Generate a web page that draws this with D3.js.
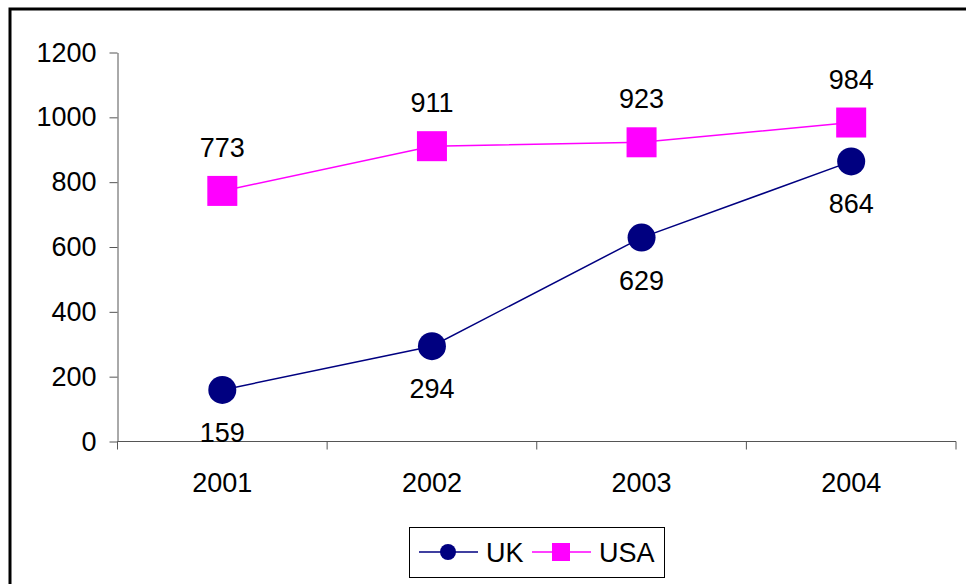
<!DOCTYPE html>
<html>
<head>
<meta charset="utf-8">
<script src="https://cdn.jsdelivr.net/npm/d3@7"></script>
<style>
  body { margin: 0; background: #fff; }
  svg { display: block; font-family: "Liberation Sans", Arial, sans-serif; }
</style>
</head>
<body>
<div id="chart"></div>
<script>
const years = ['2001', '2002', '2003', '2004'];
const ukValues = [159, 294, 629, 864];
const usaValues = [773, 911, 923, 984];
const yTicks = [0, 200, 400, 600, 800, 1000, 1200];

const W = 966, H = 584;
const plot = { left: 117.5, right: 956, top: 52.5, bottom: 441.5 };
const fontSize = 27;

const svg = d3.select('#chart').append('svg')
    .attr('width', W)
    .attr('height', H);

// outer frame (runs past the right and bottom edge)
svg.append('rect')
    .attr('x', 10).attr('y', 9)
    .attr('width', 1000).attr('height', 1000)
    .attr('fill', 'none')
    .attr('stroke', '#000')
    .attr('stroke-width', 3);

const x = d3.scaleBand()
    .domain(years)
    .range([plot.left, plot.right]);

const y = d3.scaleLinear()
    .domain([0, 1200])
    .range([plot.bottom, plot.top]);

// Y axis
const yAxis = svg.append('g')
    .attr('transform', `translate(${plot.left},0)`)
    .call(d3.axisLeft(y).tickValues(yTicks).tickFormat(d3.format('d'))
        .tickSize(8).tickPadding(13).tickSizeOuter(0));
yAxis.select('.domain').attr('stroke', '#555');
yAxis.selectAll('.tick line').attr('stroke', '#555');
yAxis.selectAll('text').attr('font-size', fontSize).attr('fill', '#000')
    .attr('font-family', '"Liberation Sans", Arial, sans-serif');

// X axis, ticks between categories
const xAxis = svg.append('g')
    .attr('transform', `translate(0,${plot.bottom})`);
xAxis.append('line')
    .attr('x1', plot.left).attr('x2', plot.right)
    .attr('stroke', '#555');
const bounds = years.map(d => x(d)).concat([x(years[years.length - 1]) + x.bandwidth()]);
xAxis.selectAll('line.tk')
    .data(bounds)
    .join('line')
    .attr('class', 'tk')
    .attr('x1', d => d).attr('x2', d => d)
    .attr('y1', 0).attr('y2', 8)
    .attr('stroke', '#555');
xAxis.selectAll('text')
    .data(years)
    .join('text')
    .attr('x', d => x(d) + x.bandwidth() / 2)
    .attr('y', 50)
    .attr('text-anchor', 'middle')
    .attr('font-size', fontSize)
    .text(d => d);

const cx = d => x(d) + x.bandwidth() / 2;
const line = d3.line().x(d => cx(d.year)).y(d => y(d.value));

const uk = years.map((year, i) => ({ year, value: ukValues[i] }));
const usa = years.map((year, i) => ({ year, value: usaValues[i] }));

// UK series
svg.append('path')
    .datum(uk)
    .attr('d', line)
    .attr('fill', 'none')
    .attr('stroke', '#000080')
    .attr('stroke-width', 1.5);
svg.selectAll('circle.uk')
    .data(uk)
    .join('circle')
    .attr('class', 'uk')
    .attr('cx', d => cx(d.year))
    .attr('cy', d => y(d.value))
    .attr('r', 14)
    .attr('fill', '#000080');

// USA series
svg.append('path')
    .datum(usa)
    .attr('d', line)
    .attr('fill', 'none')
    .attr('stroke', '#ff00ff')
    .attr('stroke-width', 1.5);
svg.selectAll('rect.usa')
    .data(usa)
    .join('rect')
    .attr('class', 'usa')
    .attr('x', d => cx(d.year) - 15)
    .attr('y', d => y(d.value) - 15)
    .attr('width', 30)
    .attr('height', 30)
    .attr('fill', '#ff00ff');

// data labels
svg.selectAll('text.usa-lbl')
    .data(usa)
    .join('text')
    .attr('class', 'usa-lbl')
    .attr('x', d => cx(d.year))
    .attr('y', d => y(d.value) - 34)
    .attr('text-anchor', 'middle')
    .attr('font-size', fontSize)
    .text(d => d.value);

svg.selectAll('text.uk-lbl')
    .data(uk)
    .join('text')
    .attr('class', 'uk-lbl')
    .attr('x', d => cx(d.year))
    .attr('y', d => y(d.value) + 52)
    .attr('text-anchor', 'middle')
    .attr('font-size', fontSize)
    .text(d => d.value);

// legend
const legend = svg.append('g');
legend.append('rect')
    .attr('x', 409.5).attr('y', 527.5)
    .attr('width', 255).attr('height', 50)
    .attr('fill', '#fff')
    .attr('stroke', '#000')
    .attr('stroke-width', 1);

const items = [
    { name: 'UK', color: '#000080', shape: 'circle', x: 419 },
    { name: 'USA', color: '#ff00ff', shape: 'square', x: 532 }
];
items.forEach(it => {
    const g = legend.append('g').attr('transform', `translate(${it.x},552)`);
    g.append('line').attr('x1', 0).attr('x2', 59)
        .attr('stroke', it.color).attr('stroke-width', 1.5);
    if (it.shape === 'circle') {
        g.append('circle').attr('cx', 29).attr('r', 8).attr('fill', it.color);
    } else {
        g.append('rect').attr('x', 20).attr('y', -9)
            .attr('width', 18).attr('height', 18).attr('fill', it.color);
    }
    g.append('text').attr('x', 67).attr('y', 10)
        .attr('font-size', fontSize).text(it.name);
});
</script>
</body>
</html>
